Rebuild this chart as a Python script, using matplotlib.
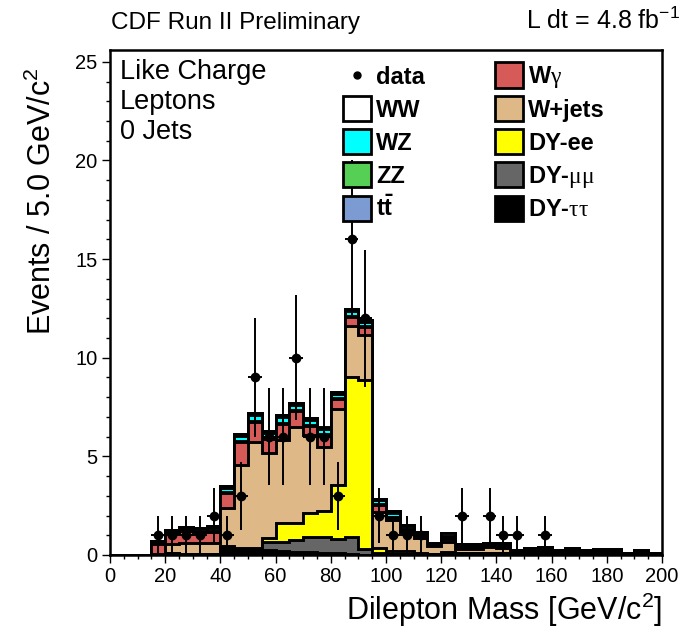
import numpy as np
import matplotlib
matplotlib.use("Agg")
import matplotlib.pyplot as plt
from matplotlib.patches import Rectangle
from matplotlib.lines import Line2D
from matplotlib.ticker import MultipleLocator

plt.rcParams['font.family'] = ['Liberation Sans', 'DejaVu Sans']
plt.rcParams['mathtext.fontset'] = 'custom'
plt.rcParams['mathtext.rm'] = 'Liberation Serif'
plt.rcParams['mathtext.bf'] = 'Liberation Sans:bold'
plt.rcParams['mathtext.default'] = 'regular'

# 5 GeV bins, 0 - 200
edges = np.arange(0, 205, 5)

data = [0, 0, 0, 1, 1, 1, 1, 2, 1, 3,
        9, 6, 6, 10, 6, 6, 3, 16, 12, 2,
        1, 1, 1, 0, 0, 2, 0, 2, 1, 1,
        0, 1, 0, 0, 0, 0, 0, 0, 0, 0]

dy_tautau = [0, 0, 0, 0.0, 0.08, 0.05, 0.03, 0.05, 0.38, 0.22,
             0.2, 0.25, 0.2, 0.15, 0.15, 0.12, 0.1, 0.05, 0.02, 0.03,
             0.03, 0.03, 0.05, 0.05, 0.08, 0.1, 0.1, 0.1, 0.08, 0.1,
             0.2, 0.15, 0.1, 0.2, 0.1, 0.12, 0.13, 0.04, 0.1, 0.02]
dy_mumu = [0, 0, 0, 0, 0, 0.02, 0.02, 0.02, 0.04, 0.08,
           0.1, 0.4, 0.48, 0.62, 0.78, 0.78, 0.7, 0.88, 0.3, 0.05,
           0.02, 0.02, 0, 0, 0, 0, 0, 0, 0, 0,
           0, 0, 0, 0, 0, 0, 0, 0, 0, 0]
dy_ee = [0, 0, 0, 0, 0, 0, 0, 0, 0.03, 0.06,
         0.08, 0.2, 0.93, 0.84, 1.18, 1.35, 2.75, 8.1, 8.55, 0.3,
         0.15, 0.15, 0.05, 0.02, 0.08, 0.02, 0, 0.02, 0, 0,
         0, 0, 0, 0, 0, 0, 0, 0, 0, 0]
w_jets = [0, 0, 0, 0.07, 0.5, 0.55, 0.55, 0.52, 1.95, 4.2,
          5.35, 4.33, 4.2, 4.9, 3.95, 3.25, 3.85, 2.6, 2.3, 1.8,
          1.55, 0.95, 0.78, 0.4, 0.52, 0.2, 0.22, 0.3, 0.3, 0.05,
          0.05, 0.12, 0.03, 0, 0, 0, 0, 0, 0, 0]
w_gamma = [0, 0, 0, 0.5, 0.52, 0.58, 0.55, 0.6, 0.75, 1.15,
           1.0, 0.72, 0.85, 0.78, 0.5, 0.6, 0.5, 0.45, 0.4, 0.35,
           0.15, 0.12, 0.08, 0.05, 0.12, 0.05, 0.05, 0.05, 0.05, 0,
           0, 0, 0, 0, 0, 0, 0, 0, 0, 0]
zz = [0, 0, 0, 0.02, 0.02, 0.03, 0.03, 0.03, 0.04, 0.05,
      0.05, 0.05, 0.05, 0.05, 0.05, 0.05, 0.05, 0.05, 0.05, 0.05,
      0.05, 0.04, 0.04, 0.03, 0.06, 0.03, 0.03, 0.03, 0.03, 0,
      0, 0, 0, 0, 0, 0, 0, 0, 0, 0]
wz = [0, 0, 0, 0.08, 0.1, 0.1, 0.12, 0.15, 0.2, 0.25,
      0.3, 0.25, 0.28, 0.28, 0.22, 0.22, 0.22, 0.25, 0.2, 0.2,
      0.2, 0.15, 0.12, 0.05, 0.12, 0.08, 0.07, 0.07, 0.07, 0.05,
      0.05, 0.07, 0.06, 0.08, 0.07, 0.08, 0.08, 0.04, 0.07, 0.03]
ww = [0, 0, 0, 0.05, 0.07, 0.07, 0.06, 0.09, 0.09, 0.11,
      0.11, 0.09, 0.1, 0.1, 0.1, 0.09, 0.08, 0.09, 0.08, 0.07,
      0.07, 0.06, 0.04, 0.03, 0.12, 0.07, 0.07, 0.06, 0.06, 0.05,
      0.07, 0.08, 0.06, 0.09, 0.08, 0.09, 0.09, 0.04, 0.08, 0.03]
ttbar = [0, 0, 0, 0, 0, 0, 0, 0, 0.01, 0.01,
         0.01, 0.01, 0.01, 0.01, 0.01, 0.01, 0.01, 0.01, 0.01, 0.01,
         0.01, 0, 0, 0, 0, 0, 0, 0, 0, 0,
         0, 0, 0, 0, 0, 0, 0, 0, 0, 0]

# stacking order, bottom to top
stack = [
    (dy_tautau, "#000000"),
    (dy_mumu, "#666666"),
    (dy_ee, "#ffff00"),
    (w_jets, "#deb887"),
    (w_gamma, "#d65a57"),
    (zz, "#55d055"),
    (wz, "#00ffff"),
    (ww, "#ffffff"),
    (ttbar, "#7b9bd2"),
]

fig = plt.figure(figsize=(6.84, 6.39), dpi=100)
W, H = 684.0, 639.0
ax = fig.add_axes([110 / W, 1 - 555 / H, 552 / W, 505 / H])

cum = np.cumsum([np.array(s, dtype=float) for s, c in stack], axis=0)
for k in range(len(stack) - 1, -1, -1):
    ax.stairs(cum[k], edges, baseline=0, fill=True, facecolor=stack[k][1],
              edgecolor="black", linewidth=2.1, zorder=1)

centers = 0.5 * (edges[:-1] + edges[1:])
data = np.array(data, dtype=float)
sel = data > 0
ax.errorbar(centers[sel], data[sel], yerr=np.sqrt(data[sel]), xerr=2.5,
            fmt="o", color="black", ms=6, elinewidth=1.4, capsize=0, zorder=3)

ax.set_xlim(0, 200)
ax.set_ylim(0, 25.6)
ax.xaxis.set_major_locator(MultipleLocator(20))
ax.xaxis.set_minor_locator(MultipleLocator(5))
ax.yaxis.set_major_locator(MultipleLocator(5))
ax.yaxis.set_minor_locator(MultipleLocator(1))
ax.tick_params(which="both", direction="out", width=1.0, labelsize=14.5)
ax.tick_params(which="major", length=6, pad=3)
ax.tick_params(which="minor", length=3)
for sp in ax.spines.values():
    sp.set_linewidth(1.8)


def fx(px):
    return px / W


def fy(py):
    return 1 - py / H


fig.text(fx(111), fy(29), "CDF Run II Preliminary", fontsize=17.5, ha="left", va="baseline")
fig.text(fx(680), fy(29), "L dt = 4.8 fb$^{-1}$", fontsize=18, ha="right", va="baseline")
for i, line in enumerate(["Like Charge", "Leptons", "0 Jets"]):
    fig.text(fx(120), fy(79 + 30 * i), line, fontsize=19.5, ha="left", va="baseline")

fig.text(fx(42), fy(68), "Events / 5.0 GeV/c$^{2}$", rotation=90, fontsize=22,
         ha="center", va="top")
fig.text(fx(662), fy(620), "Dilepton Mass [GeV/c$^{2}$]", fontsize=22,
         ha="right", va="baseline")

# legend, two columns of five rows
legend_left = [("data", None), ("WW", "#ffffff"), ("WZ", "#00ffff"),
               ("ZZ", "#55d055"), (r"t$\bar{\mathbf{t}}$", "#7b9bd2")]
legend_right = [(r"W$\mathrm{\gamma}$", "#d65a57"), ("W+jets", "#deb887"),
                ("DY-ee", "#ffff00"), (r"DY-$\mathrm{\mu\mu}$", "#666666"),
                (r"DY-$\mathrm{\tau\tau}$", "#000000")]
for col, (entries, box_x) in enumerate([(legend_left, 343), (legend_right, 495)]):
    for row, (label, color) in enumerate(entries):
        yc = 75 + 33.25 * row
        if color is None:
            fig.add_artist(Line2D([fx(box_x + 14)], [fy(yc)], marker="o", ms=5,
                                  color="black", transform=fig.transFigure))
        else:
            fig.add_artist(Rectangle((fx(box_x), fy(yc + 12.5)), 28 / W, 25 / H,
                                     facecolor=color, edgecolor="black", linewidth=2.0,
                                     transform=fig.transFigure))
        fig.text(fx(box_x + 33), fy(yc + 8.5), label, fontsize=17, fontweight="bold",
                 ha="left", va="baseline")

fig.savefig("out.png", dpi=100)
